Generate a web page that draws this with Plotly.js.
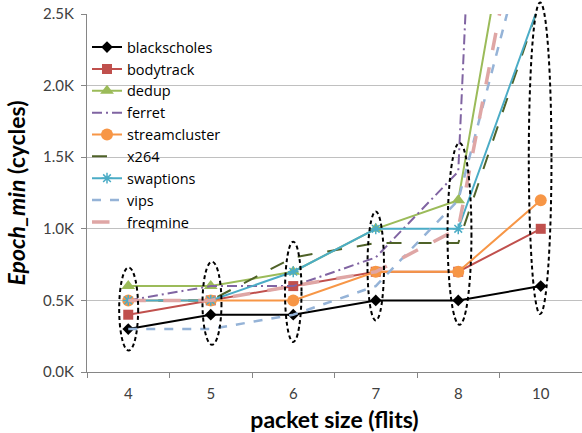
<!DOCTYPE html>
<html>
<head>
<meta charset="utf-8">
<script src="https://cdn.plot.ly/plotly-3.0.1.min.js"></script>
<style>html,body{margin:0;padding:0;background:#fff;}#chart{width:582px;height:433px;}</style>
</head>
<body>
<div id="chart"></div>
<script>
// packet size categories (flits)
const categories = ['4', '5', '6', '7', '8', '10'];
// Epoch_min in thousands of cycles (K)
const blackscholes = [0.3, 0.4, 0.4, 0.5, 0.5, 0.6];
const bodytrack    = [0.4, 0.5, 0.6, 0.7, 0.7, 1.0];
const dedup        = [0.6, 0.6, 0.7, 1.0, 1.2, 4.5];
const ferret       = [0.5, 0.6, 0.6, 0.8, 1.4, 14.0];
const streamcluster= [0.5, 0.5, 0.5, 0.7, 0.7, 1.2];
const x264         = [0.5, 0.5, 0.8, 0.9, 0.9, 2.6];
const swaptions    = [0.5, 0.5, 0.7, 1.0, 1.0, 2.6];
const vips         = [0.3, 0.3, 0.4, 0.6, 1.2, 3.4];
const freqmine     = [0.5, 0.5, 0.6, 0.7, 1.0, 4.0];
const yTickVals = [0, 0.5, 1.0, 1.5, 2.0, 2.5];
const yTickText = ['0.0K', '0.5K', '1.0K', '1.5K', '2.0K', '2.5K'];

function tr(name, y, color, opts) {
  return Object.assign({
    type: 'scatter', x: categories, y: y, name: name,
    mode: 'lines', line: {color: color, width: 2}
  }, opts || {});
}

const traces = [
  tr('blackscholes', blackscholes, '#000000', {mode: 'lines+markers', marker: {symbol: 'diamond', size: 9, color: '#000000'}}),
  tr('bodytrack', bodytrack, '#C0504D', {mode: 'lines+markers', marker: {symbol: 'square', size: 10, color: '#C0504D'}}),
  tr('dedup', dedup, '#9BBB59', {mode: 'lines+markers', marker: {symbol: 'triangle-up', size: 12, color: '#9BBB59'}}),
  tr('ferret', ferret, '#8064A2', {line: {color: '#8064A2', width: 2, dash: '10px,4px,2px,4px'}}),
  tr('streamcluster', streamcluster, '#F79646', {mode: 'lines+markers', marker: {symbol: 'circle', size: 12, color: '#F79646'}}),
  tr('x264', x264, '#4F6228', {line: {color: '#4F6228', width: 2, dash: 'longdash'}}),
  tr('swaptions', swaptions, '#4BACC6', {mode: 'lines+markers', marker: {symbol: 'asterisk', size: 9, color: '#4BACC6', line: {color: '#4BACC6', width: 1.5}}}),
  tr('vips', vips, '#95B3D7', {line: {color: '#95B3D7', width: 2.5, dash: 'dash'}}),
  tr('freqmine', freqmine, '#E6B9B8', {line: {color: '#DFA6A5', width: 3.5, dash: 'longdash'}})
];

// ellipse around category index idx, offsets in category units, y in data units
function ell(idx, dx0, dx1, y0, y1, yref) {
  return {type: 'circle', xref: 'paper', yref: yref || 'y',
          x0: (idx + 0.5 + dx0) / 6, x1: (idx + 0.5 + dx1) / 6, y0: y0, y1: y1,
          line: {color: '#000000', width: 2, dash: '4px,3px'}, layer: 'above'};
}

const layout = {
  width: 582, height: 433,
  margin: {l: 87, r: 0, t: 14, b: 61},
  paper_bgcolor: '#ffffff', plot_bgcolor: '#ffffff',
  font: {family: 'Lato, "Open Sans", sans-serif', color: '#404040', size: 14},
  showlegend: true,
  legend: {x: 0.0, y: 0.952, xanchor: 'left', yanchor: 'top', bgcolor: 'rgba(0,0,0,0)',
           font: {family: '"Open Sans", sans-serif', size: 14.5, color: '#000000'}, itemwidth: 30, tracegroupgap: 0},
  xaxis: {
    type: 'category', range: [-0.5, 5.5], tickson: 'boundaries',
    ticks: 'outside', ticklen: 5, tickcolor: '#868686',
    showline: true, linecolor: '#868686', linewidth: 1, showgrid: false, zeroline: false,
    tickfont: {size: 15, color: '#404040'}, ticklabelstandoff: 8,
    title: {text: '<b>packet size (flits)</b>', font: {size: 23, color: '#000000'}, standoff: 12}
  },
  yaxis: {
    range: [0, 2.5], tickvals: yTickVals, ticktext: yTickText,
    ticks: 'outside', ticklen: 5, tickcolor: '#868686',
    showline: true, linecolor: '#868686', linewidth: 1,
    showgrid: true, gridcolor: '#C0C0C0', zeroline: false,
    tickfont: {size: 15, color: '#404040'}, ticklabelstandoff: 4,
    title: {text: '<b><i>Epoch_min</i> (cycles)</b>', font: {size: 23, color: '#000000'}, standoff: 11}
  },
  shapes: [
    ell(0, -0.11, 0.12, 0.15, 0.73),
    ell(1, -0.1, 0.13, 0.19, 0.77),
    ell(2, -0.1, 0.1, 0.21, 0.91),
    ell(3, -0.1, 0.1, 0.36, 1.12),
    ell(4, -0.13, 0.16, 0.33, 1.6),
    ell(5, -0.145, 0.13, 0.162, 1.032, 'paper')
  ]
};

Plotly.newPlot('chart', traces, layout, {displayModeBar: false, staticPlot: true});
</script>
</body>
</html>
